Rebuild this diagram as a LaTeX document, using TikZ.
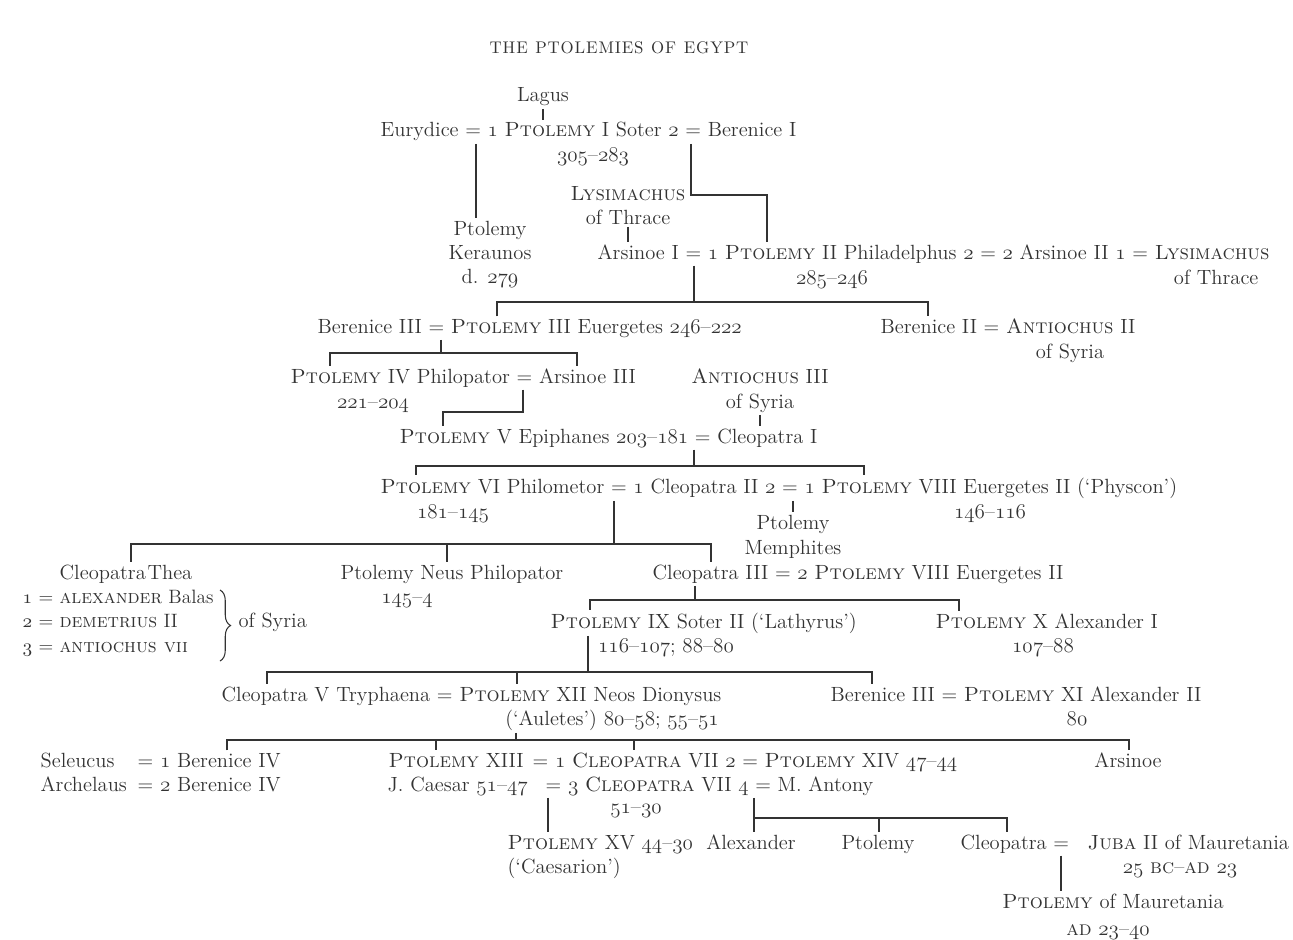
\documentclass[tikz,border=0pt]{standalone}
\usetikzlibrary{decorations.pathreplacing}

\definecolor{ink}{HTML}{333333}
% old style figures, taken from the math italic font
\newcommand\os[1]{{\usefont{OML}{cmm}{m}{it}#1}}
\newcommand\lsp{\kern0.5pt}

\tikzset{
  every node/.style={inner sep=0pt,outer sep=1.5pt,text=ink,
    font=\fontsize{11.7}{14}\selectfont},
  row/.style={anchor=base west},
  ctr/.style={anchor=base},
  small/.style={font=\fontsize{11}{13}\selectfont},
  tie/.style={draw=ink,line width=0.7pt},
}

\begin{document}
\begin{tikzpicture}[x=0.02cm,y=-0.02cm]
\fill[white] (0,0) rectangle (1293,939);
\useasboundingbox (0,0) rectangle (1293,939);

\node[ctr,font=\fontsize{9.6}{12}\selectfont] (title) at (619,54)
  {T\lsp H\lsp E\hspace{0.45em}P\lsp T\lsp O\lsp L\lsp E\lsp M\lsp I\lsp E\lsp S\hspace{0.45em}O\lsp F\hspace{0.45em}E\lsp G\lsp Y\lsp P\lsp T};

% Ptolemy I
\node[ctr] (lagus) at (543,102) {Lagus};
\node[row] (soter) at (378,137) {Eurydice = \os{1} \textsc{Ptolemy} I Soter \os{2} = Berenice I};
\node[ctr] (yrsoter) at (593,162) {\os{305}–\os{283}};
\node[ctr] (lysA) at (628,200) {\textsc{Lysimachus}};
\node[ctr] (lysB) at (628,224) {of Thrace};
\node[ctr] (kerA) at (490,235) {Ptolemy};
\node[ctr] (kerB) at (490,259) {Keraunos};
\node[ctr] (kerC) at (490,283) {d. \os{279}};

% Ptolemy II
\node[row] (philad) at (595,259) {Arsinoe I = \os{1} \textsc{Ptolemy} II Philadelphus \os{2} = \os{2} Arsinoe II \os{1} = \textsc{Lysimachus}};
\node[ctr] (yrphilad) at (832,284) {\os{285}–\os{246}};
\node[anchor=base east] (thraceB) at (1261,284) {of Thrace};

% Ptolemy III, IV, V
\node[row] (euerg) at (315,333) {Berenice III = \textsc{Ptolemy} III Euergetes \os{246}–\os{222}};
\node[row] (berII) at (878,333) {Berenice II = \textsc{Antiochus} II};
\node[ctr] (syriaA) at (1070,358) {of Syria};
\node[row] (philop) at (288,383) {\textsc{Ptolemy} IV Philopator = Arsinoe III};
\node[ctr] (yrphilop) at (373,408) {\os{221}–\os{204}};
\node[ctr] (antA) at (760,383) {\textsc{Antiochus} III};
\node[ctr] (antB) at (760,408) {of Syria};
\node[row] (epiph) at (397,443) {\textsc{Ptolemy} V Epiphanes \os{203}–\os{181} = Cleopatra I};

% Ptolemy VI and VIII
\node[row] (philom) at (378,493) {\textsc{Ptolemy} VI Philometor = \os{1} Cleopatra II \os{2} = \os{1} \textsc{Ptolemy} VIII Euergetes II (‘Physcon’)};
\node[ctr] (yrphilom) at (453,518) {\os{181}–\os{145}};
\node[ctr] (yrphyscon) at (990,518) {\os{146}–\os{116}};
\node[ctr] (memA) at (793,529) {Ptolemy};
\node[ctr] (memB) at (793,554) {Memphites};

\node[ctr] (thea) at (126,579) {Cleopatra\kern1pt Thea};
\node[row,small] (balas) at (20,603) {\os{1} = \textsc{alexander} Balas};
\node[row,small] (demet) at (20,627) {\os{2} = \textsc{demetrius} II};
\node[row,small] (antVII) at (20,652) {\os{3} = \textsc{antiochus vii}};
\node[row] (syriaB) at (236,627) {of Syria};
\node[ctr] (neus) at (452,579) {Ptolemy Neus Philopator};
\node[ctr] (yrneus) at (407,603) {\os{145}–\os{4}};
\node[row] (cleoIII) at (650,579) {Cleopatra III = \os{2} \textsc{Ptolemy} VIII Euergetes II};

% Ptolemy IX, X, XI, XII
\node[row] (lathyrus) at (548,628) {\textsc{Ptolemy} IX Soter II (‘Lathyrus’)};
\node[ctr] (yrlath) at (666,652) {\os{116}–\os{107}; \os{88}–\os{80}};
\node[row] (alexI) at (933,628) {\textsc{Ptolemy} X Alexander I};
\node[ctr] (yralexI) at (1043,652) {\os{107}–\os{88}};
\node[row] (auletes) at (219,701) {Cleopatra V Tryphaena = \textsc{Ptolemy} XII Neos Dionysus};
\node[ctr] (yraul) at (612,725) {(‘Auletes’) \os{80}–\os{58}; \os{55}–\os{51}};
\node[row] (alexII) at (828,701) {Berenice III = \textsc{Ptolemy} XI Alexander II};
\node[ctr] (yralexII) at (1077,725) {\os{80}};

% children of Auletes
\node[row] (seleucus) at (38,767) {Seleucus};
\node[row] (archelaus) at (38,791) {Archelaus};
\node[row] (berIVa) at (135,767) {= \os{1} Berenice IV};
\node[row] (berIVb) at (135,791) {= \os{2} Berenice IV};
\node[row] (ptolXIII) at (386,767) {\textsc{Ptolemy} XIII};
\node[row] (cleoVIIa) at (530,767) {= \os{1} \textsc{Cleopatra} VII \os{2} = \textsc{Ptolemy} XIV \os{47}–\os{44}};
\node[row] (caesar) at (385,791) {J. Caesar \os{51}–\os{47}};
\node[row] (cleoVIIb) at (543,791) {= \os{3} \textsc{Cleopatra} VII \os{4} = M. Antony};
\node[ctr] (yrcleo) at (636,813) {\os{51}–\os{30}};
\node[ctr] (arsinoe) at (1128,767) {Arsinoe};

% last generation
\node[row] (caesarion) at (505,849) {\textsc{Ptolemy} XV \os{44}–\os{30}};
\node[row] (caesarionB) at (505,873) {(‘Caesarion’)};
\node[ctr] (alexander) at (751,849) {Alexander};
\node[ctr] (ptolemy) at (878,849) {Ptolemy};
\node[row] (cleopatra) at (958,849) {Cleopatra =};
\node[row] (juba) at (1085,849) {\textsc{Juba} II of Mauretania};
\node[ctr] (yrjuba) at (1180,873) {\os{25} \textsc{bc}–\textsc{ad} \os{23}};
\node[ctr] (ptolmaur) at (1113,908) {\textsc{Ptolemy} of Mauretania};
\node[ctr] (yrmaur) at (1108,935) {\textsc{ad} \os{23}–\os{40}};

% junctions
\coordinate (c1) at (476,0);
\coordinate (c2) at (691,195);
\coordinate (c2b) at (767,195);
\coordinate (c5) at (694,302);
\coordinate (c5l) at (497,302);
\coordinate (c5r) at (928,302);
\coordinate (c6) at (441,353);
\coordinate (c6l) at (330,353);
\coordinate (c6r) at (577,353);
\coordinate (c7) at (523,412);
\coordinate (c7l) at (443,412);
\coordinate (c9) at (694,466);
\coordinate (c9l) at (416,466);
\coordinate (c9r) at (864,466);
\coordinate (c10) at (614,544);
\coordinate (c10l) at (131,544);
\coordinate (c10m) at (447,544);
\coordinate (c10r) at (711,544);
\coordinate (c11) at (793,0);
\coordinate (c12) at (695,600);
\coordinate (c12l) at (590,600);
\coordinate (c12r) at (959,600);
\coordinate (c13) at (588,672);
\coordinate (c13l) at (267,672);
\coordinate (c13m) at (517,672);
\coordinate (c13r) at (872,672);
\coordinate (c14) at (516,740);
\coordinate (c14l) at (227,740);
\coordinate (c14a) at (436,740);
\coordinate (c14b) at (634,740);
\coordinate (c14r) at (1129,740);
\coordinate (c15) at (548,0);
\coordinate (c16) at (754,818);
\coordinate (c16m) at (879,818);
\coordinate (c16r) at (1007,818);
\coordinate (c17) at (1061,0);

% lines of descent
\draw[tie] (lagus.south) -- (lagus.south |- soter.north);
\draw[tie] (c1 |- soter.south) -- (c1 |- kerA.north);
\draw[tie] (c2 |- soter.south) -- (c2) -- (c2b) -- (c2b |- philad.north);
\draw[tie] (lysB.south) -- (lysB.south |- philad.north);
\draw[tie] (c5 |- philad.south) -- (c5);
\draw[tie] (c5l |- euerg.north) -- (c5l) -- (c5r) -- (c5r |- berII.north);
\draw[tie] (c6 |- euerg.south) -- (c6);
\draw[tie] (c6l |- philop.north) -- (c6l) -- (c6r) -- (c6r |- philop.north);
\draw[tie] (c7 |- philop.south) -- (c7) -- (c7l) -- (c7l |- epiph.north);
\draw[tie] (antB.south) -- (antB.south |- epiph.north);
\draw[tie] (c9 |- epiph.south) -- (c9);
\draw[tie] (c9l |- philom.north) -- (c9l) -- (c9r) -- (c9r |- philom.north);
\draw[tie] (c10 |- philom.south) -- (c10);
\draw[tie] (c10l |- thea.north) -- (c10l) -- (c10r) -- (c10r |- cleoIII.north);
\draw[tie] (c10m) -- (c10m |- neus.north);
\draw[tie] (c11 |- philom.south) -- (c11 |- memA.north);
\draw[decorate,decoration={brace,amplitude=6pt},draw=ink,line width=0.6pt]
  (220,590) -- (220,661);
\draw[tie] (c12 |- cleoIII.south) -- (c12);
\draw[tie] (c12l |- lathyrus.north) -- (c12l) -- (c12r) -- (c12r |- alexI.north);
\draw[tie] (c13 |- lathyrus.south) -- (c13);
\draw[tie] (c13l |- auletes.north) -- (c13l) -- (c13r) -- (c13r |- alexII.north);
\draw[tie] (c13m) -- (c13m |- auletes.north);
\draw[tie] (c14 |- yraul.south) -- (c14);
\draw[tie] (c14l |- berIVa.north) -- (c14l) -- (c14r) -- (c14r |- arsinoe.north);
\draw[tie] (c14a) -- (c14a |- ptolXIII.north);
\draw[tie] (c14b) -- (c14b |- cleoVIIa.north);
\draw[tie] (c15 |- cleoVIIb.south) -- (c15 |- caesarion.north);
\draw[tie] (c16 |- cleoVIIb.south) -- (c16 |- alexander.north);
\draw[tie] (c16) -- (c16r) -- (c16r |- cleopatra.north);
\draw[tie] (c16m) -- (c16m |- ptolemy.north);
\draw[tie] (c17 |- cleopatra.south) -- (c17 |- ptolmaur.north);
\end{tikzpicture}
\end{document}
